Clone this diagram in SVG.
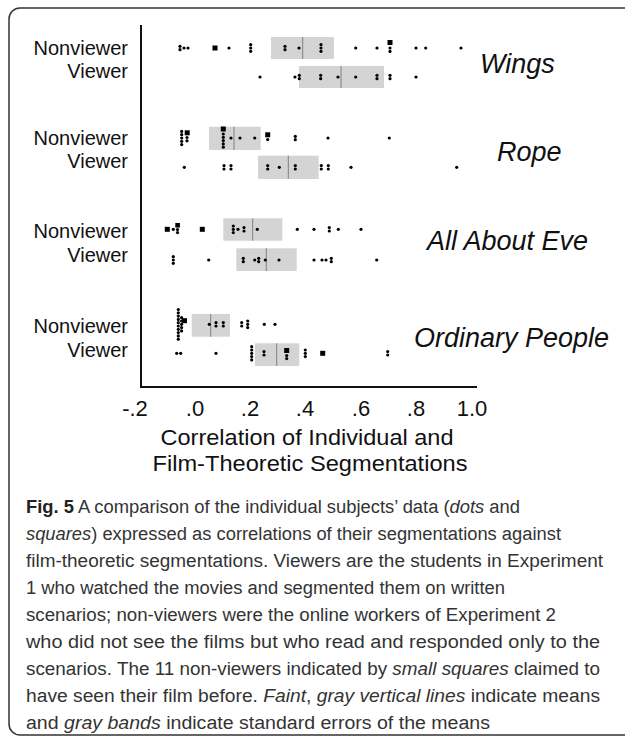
<svg xmlns="http://www.w3.org/2000/svg" width="625" height="736" viewBox="0 0 625 736">
<defs>
<style>
.lbl{font-family:"Liberation Sans",Arial,sans-serif;font-size:20px;fill:#111;text-anchor:end}
.ttl{font-family:"Liberation Sans",Arial,sans-serif;font-size:27px;font-style:italic;fill:#111}
.tick{font-family:"Liberation Sans",Arial,sans-serif;font-size:22px;fill:#111;text-anchor:middle}
.axt{font-family:"Liberation Sans",Arial,sans-serif;font-size:22px;fill:#111;text-anchor:middle}
.cap{font-family:"Liberation Sans",Arial,sans-serif;font-size:18px;fill:#333}
.band{fill:#d4d4d4}
.mean{stroke:#808080;stroke-width:1}
.d{fill:#000}
.axis{stroke:#111;stroke-width:2;fill:none}
</style>
</defs>
<rect x="9" y="8" width="640" height="727" rx="11" fill="#fff" stroke="#333" stroke-width="1.5"/>

<g id="axes">
<path class="axis" d="M141 25 V387 H477"/>
<text class="tick" x="135" y="416">-.2</text>
<text class="tick" x="195" y="416">.0</text>
<text class="tick" x="250" y="416">.2</text>
<text class="tick" x="305" y="416">.4</text>
<text class="tick" x="361" y="416">.6</text>
<text class="tick" x="416" y="416">.8</text>
<text class="tick" x="472" y="416">1.0</text>
<text class="axt" x="307" y="445" textLength="293" lengthAdjust="spacingAndGlyphs">Correlation of Individual and</text>
<text class="axt" x="310" y="471" textLength="315" lengthAdjust="spacingAndGlyphs">Film-Theoretic Segmentations</text>
</g>

<g id="wings">
<text class="lbl" x="128" y="55">Nonviewer</text>
<text class="lbl" x="128" y="78">Viewer</text>
<text class="ttl" x="480" y="73">Wings</text>
<rect class="band" x="271" y="37" width="63" height="22"/>
<line class="mean" x1="302.7" y1="37" x2="302.7" y2="59"/>
<rect class="band" x="299" y="66" width="85" height="22"/>
<line class="mean" x1="341" y1="66" x2="341" y2="88"/>
<g class="d">
<circle cx="180" cy="46.3" r="1.6"/><circle cx="180" cy="49.7" r="1.6"/><circle cx="184" cy="48" r="1.6"/><circle cx="188" cy="48" r="1.6"/>
<rect x="212.5" y="45.5" width="5" height="5"/>
<circle cx="229" cy="48" r="1.6"/>
<circle cx="250.7" cy="44.7" r="1.6"/><circle cx="250.7" cy="48" r="1.6"/><circle cx="250.7" cy="51.3" r="1.6"/>
<circle cx="285" cy="46.3" r="1.6"/><circle cx="285" cy="49.7" r="1.6"/>
<circle cx="299" cy="48" r="1.6"/>
<circle cx="321" cy="44.7" r="1.6"/><circle cx="321" cy="48" r="1.6"/><circle cx="321" cy="51.3" r="1.6"/>
<circle cx="355.7" cy="48" r="1.6"/><circle cx="377" cy="48" r="1.6"/>
<rect x="387.5" y="40" width="5" height="5"/><circle cx="390" cy="48" r="1.6"/><circle cx="390" cy="51.4" r="1.6"/>
<circle cx="416" cy="48" r="1.6"/><circle cx="425.7" cy="48" r="1.6"/><circle cx="461" cy="48" r="1.6"/>

<circle cx="260" cy="77" r="1.6"/>
<circle cx="295" cy="77" r="1.6"/><circle cx="299.3" cy="75.3" r="1.6"/><circle cx="299.3" cy="78.7" r="1.6"/>
<circle cx="320.7" cy="75.3" r="1.6"/><circle cx="320.7" cy="78.7" r="1.6"/>
<circle cx="338" cy="77" r="1.6"/><circle cx="355.7" cy="77" r="1.6"/>
<circle cx="377" cy="75.3" r="1.6"/><circle cx="377" cy="78.7" r="1.6"/>
<circle cx="390" cy="75.3" r="1.6"/><circle cx="390" cy="78.7" r="1.6"/>
<circle cx="416" cy="77" r="1.6"/>
</g>
</g>

<g id="rope">
<text class="lbl" x="128" y="145">Nonviewer</text>
<text class="lbl" x="128" y="168">Viewer</text>
<text class="ttl" x="497" y="161">Rope</text>
<rect class="band" x="209" y="126.7" width="51.7" height="23.3"/>
<line class="mean" x1="234" y1="126.7" x2="234" y2="150"/>
<rect class="band" x="258" y="155.7" width="60.7" height="23.3"/>
<line class="mean" x1="288.3" y1="155.7" x2="288.3" y2="179"/>
<g class="d">
<circle cx="181.7" cy="131.4" r="1.6"/><circle cx="181.7" cy="134.7" r="1.6"/><circle cx="181.7" cy="138" r="1.6"/><circle cx="181.7" cy="141.3" r="1.6"/><circle cx="181.7" cy="144.6" r="1.6"/>
<rect x="184.7" y="130.3" width="5" height="5"/><circle cx="187" cy="137.5" r="1.6"/><circle cx="187" cy="140.8" r="1.6"/>
<rect x="220.8" y="126.5" width="5" height="5"/>
<circle cx="223.3" cy="134" r="1.6"/><circle cx="223.3" cy="137.3" r="1.6"/><circle cx="223.3" cy="140.6" r="1.6"/><circle cx="223.3" cy="143.9" r="1.6"/><circle cx="223.3" cy="147.2" r="1.6"/>
<circle cx="231" cy="138" r="1.6"/><circle cx="240" cy="138" r="1.6"/><circle cx="254.7" cy="138" r="1.6"/>
<rect x="265.2" y="132.3" width="5" height="5"/><circle cx="267.7" cy="139.6" r="1.6"/>
<circle cx="295.3" cy="136.3" r="1.6"/><circle cx="295.3" cy="139.7" r="1.6"/>
<circle cx="328" cy="138" r="1.6"/><circle cx="389.3" cy="138" r="1.6"/>

<circle cx="184.3" cy="167.3" r="1.6"/>
<circle cx="224" cy="165.6" r="1.6"/><circle cx="224" cy="169" r="1.6"/>
<circle cx="231" cy="165.6" r="1.6"/><circle cx="231" cy="169" r="1.6"/>
<circle cx="267.7" cy="165.6" r="1.6"/><circle cx="267.7" cy="169" r="1.6"/>
<circle cx="279.3" cy="167.3" r="1.6"/>
<circle cx="295.3" cy="165.6" r="1.6"/><circle cx="295.3" cy="169" r="1.6"/>
<circle cx="321.3" cy="165.6" r="1.6"/><circle cx="321.3" cy="169" r="1.6"/>
<circle cx="328.3" cy="165.6" r="1.6"/><circle cx="328.3" cy="169" r="1.6"/>
<circle cx="351" cy="167.3" r="1.6"/><circle cx="456.7" cy="167.3" r="1.6"/>
</g>
</g>

<g id="all-about-eve">
<text class="lbl" x="128" y="238">Nonviewer</text>
<text class="lbl" x="128" y="262">Viewer</text>
<text class="ttl" x="427" y="250">All About Eve</text>
<rect class="band" x="223.3" y="218.3" width="59" height="22.4"/>
<line class="mean" x1="252.7" y1="218.3" x2="252.7" y2="240.7"/>
<rect class="band" x="236.3" y="248.3" width="60.4" height="22.7"/>
<line class="mean" x1="266.3" y1="248.3" x2="266.3" y2="271"/>
<g class="d">
<rect x="164.8" y="226.8" width="5" height="5"/><circle cx="173.3" cy="229.3" r="1.6"/>
<rect x="175.3" y="223" width="4.6" height="4.6"/><circle cx="177.5" cy="229.5" r="1.6"/><circle cx="177.5" cy="232.6" r="1.6"/>
<rect x="199.8" y="226.8" width="5" height="5"/>
<circle cx="233.3" cy="226" r="1.6"/><circle cx="233.3" cy="229.3" r="1.6"/><circle cx="233.3" cy="232.6" r="1.6"/>
<circle cx="238" cy="229.3" r="1.6"/>
<circle cx="244" cy="227.6" r="1.6"/><circle cx="244" cy="231" r="1.6"/>
<circle cx="257.3" cy="229.3" r="1.6"/>
<circle cx="297.3" cy="229.3" r="1.6"/><circle cx="314" cy="229.3" r="1.6"/>
<circle cx="329.3" cy="227.6" r="1.6"/><circle cx="329.3" cy="231" r="1.6"/>
<circle cx="338.3" cy="229.3" r="1.6"/><circle cx="361" cy="229.3" r="1.6"/>

<circle cx="173.3" cy="256.7" r="1.6"/><circle cx="173.3" cy="260" r="1.6"/><circle cx="173.3" cy="263.3" r="1.6"/>
<circle cx="208.7" cy="260" r="1.6"/>
<circle cx="243.3" cy="258.3" r="1.6"/><circle cx="243.3" cy="261.7" r="1.6"/>
<circle cx="254.7" cy="260" r="1.6"/>
<circle cx="258.7" cy="258.3" r="1.6"/><circle cx="258.7" cy="261.7" r="1.6"/>
<circle cx="265.3" cy="260" r="1.6"/><circle cx="279" cy="260" r="1.6"/>
<circle cx="314" cy="260" r="1.6"/><circle cx="322" cy="260" r="1.6"/><circle cx="326" cy="260" r="1.6"/>
<circle cx="331.3" cy="258.3" r="1.6"/><circle cx="331.3" cy="261.7" r="1.6"/>
<circle cx="376.7" cy="260" r="1.6"/>
</g>
</g>

<g id="ordinary-people">
<text class="lbl" x="128" y="333">Nonviewer</text>
<text class="lbl" x="128" y="357">Viewer</text>
<text class="ttl" x="414" y="347">Ordinary People</text>
<rect class="band" x="191.7" y="314" width="38.3" height="22.7"/>
<line class="mean" x1="210.7" y1="314" x2="210.7" y2="336.7"/>
<rect class="band" x="255" y="343.3" width="44.3" height="22.7"/>
<line class="mean" x1="276.7" y1="343.3" x2="276.7" y2="366"/>
<g class="d">
<circle cx="178.3" cy="309.5" r="1.6"/><circle cx="178.3" cy="312.8" r="1.6"/><circle cx="178.3" cy="316.1" r="1.6"/><circle cx="178.3" cy="319.4" r="1.6"/><circle cx="178.3" cy="322.7" r="1.6"/><circle cx="178.3" cy="326" r="1.6"/><circle cx="178.3" cy="329.3" r="1.6"/><circle cx="178.3" cy="332.6" r="1.6"/><circle cx="178.3" cy="335.9" r="1.6"/><circle cx="178.3" cy="339.2" r="1.6"/>
<circle cx="181.6" cy="317.7" r="1.6"/><circle cx="181.6" cy="321" r="1.6"/><circle cx="181.6" cy="324.3" r="1.6"/><circle cx="181.6" cy="327.6" r="1.6"/><circle cx="181.6" cy="330.9" r="1.6"/>
<rect x="182" y="318.2" width="5" height="5"/>
<circle cx="209.3" cy="324.3" r="1.6"/>
<circle cx="216" cy="322.6" r="1.6"/><circle cx="216" cy="326" r="1.6"/>
<circle cx="223.3" cy="322.6" r="1.6"/><circle cx="223.3" cy="326" r="1.6"/>
<circle cx="241.7" cy="322.6" r="1.6"/><circle cx="241.7" cy="326" r="1.6"/>
<circle cx="247.7" cy="321" r="1.6"/><circle cx="247.7" cy="324.3" r="1.6"/><circle cx="247.7" cy="327.6" r="1.6"/>
<circle cx="264.3" cy="324.3" r="1.6"/><circle cx="275" cy="324.3" r="1.6"/>

<circle cx="176.7" cy="353.3" r="1.6"/><circle cx="180.7" cy="353.3" r="1.6"/><circle cx="216" cy="353.3" r="1.6"/>
<circle cx="251.7" cy="346.7" r="1.6"/><circle cx="251.7" cy="350" r="1.6"/><circle cx="251.7" cy="353.3" r="1.6"/><circle cx="251.7" cy="356.6" r="1.6"/><circle cx="251.7" cy="359.9" r="1.6"/>
<circle cx="264" cy="351.6" r="1.6"/><circle cx="264" cy="355" r="1.6"/>
<rect x="284.2" y="348" width="5" height="5"/><circle cx="286.7" cy="355.5" r="1.6"/><circle cx="286.7" cy="358.6" r="1.6"/>
<circle cx="305.3" cy="350" r="1.6"/><circle cx="305.3" cy="353.3" r="1.6"/><circle cx="305.3" cy="356.6" r="1.6"/>
<rect x="320.2" y="350.8" width="5" height="5"/>
<circle cx="387.7" cy="351.6" r="1.6"/><circle cx="387.7" cy="355" r="1.6"/>
</g>
</g>

<g id="caption">
<text class="cap" x="26" y="513" textLength="494" lengthAdjust="spacingAndGlyphs"><tspan font-weight="bold" fill="#222">Fig. 5</tspan> A comparison of the individual subjects’ data (<tspan font-style="italic">dots</tspan> and</text>
<text class="cap" x="26" y="540" textLength="535" lengthAdjust="spacingAndGlyphs"><tspan font-style="italic">squares</tspan>) expressed as correlations of their segmentations against</text>
<text class="cap" x="26" y="567" textLength="577" lengthAdjust="spacingAndGlyphs">film-theoretic segmentations. Viewers are the students in Experiment</text>
<text class="cap" x="26" y="594" textLength="479" lengthAdjust="spacingAndGlyphs">1 who watched the movies and segmented them on written</text>
<text class="cap" x="26" y="621" textLength="530" lengthAdjust="spacingAndGlyphs">scenarios; non-viewers were the online workers of Experiment 2</text>
<text class="cap" x="26" y="648" textLength="574" lengthAdjust="spacingAndGlyphs">who did not see the films but who read and responded only to the</text>
<text class="cap" x="26" y="675" textLength="574" lengthAdjust="spacingAndGlyphs">scenarios. The 11 non-viewers indicated by <tspan font-style="italic">small squares</tspan> claimed to</text>
<text class="cap" x="26" y="702" textLength="574" lengthAdjust="spacingAndGlyphs">have seen their film before. <tspan font-style="italic">Faint</tspan>, <tspan font-style="italic">gray vertical lines</tspan> indicate means</text>
<text class="cap" x="26" y="729" textLength="464" lengthAdjust="spacingAndGlyphs">and <tspan font-style="italic">gray bands</tspan> indicate standard errors of the means</text>
</g>
</svg>
